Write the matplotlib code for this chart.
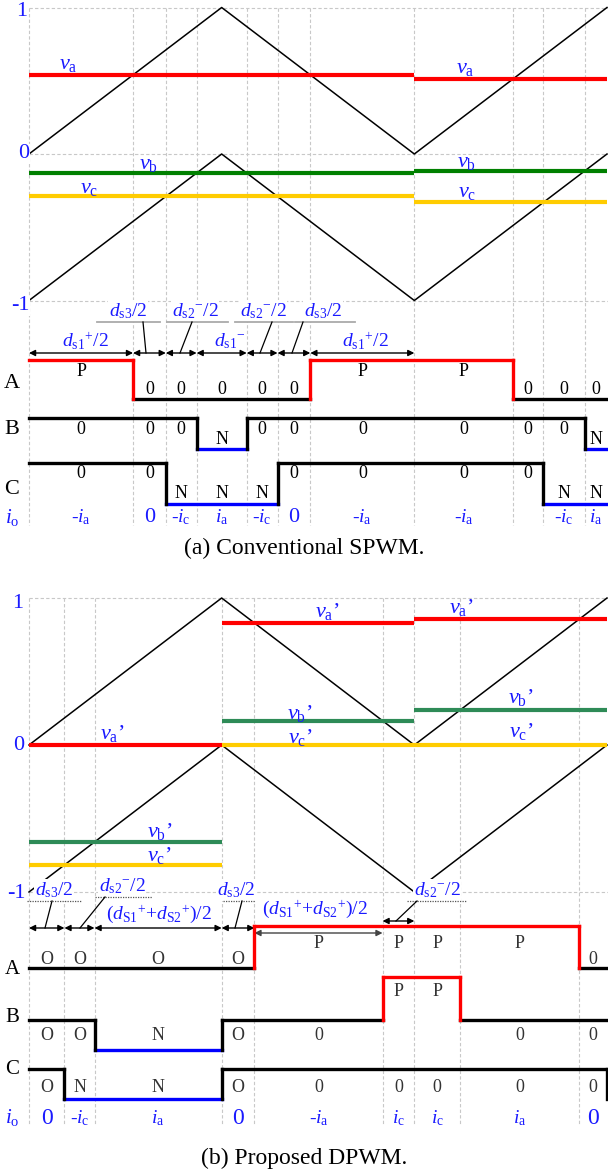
import numpy as np
import matplotlib
matplotlib.use('Agg')
import matplotlib.pyplot as plt

plt.rcParams['font.family'] = ['Liberation Serif', 'DejaVu Serif']
plt.rcParams['mathtext.fontset'] = 'custom'
plt.rcParams['mathtext.rm'] = 'Liberation Serif'
plt.rcParams['mathtext.it'] = 'Liberation Serif:italic'
plt.rcParams['mathtext.bf'] = 'Liberation Serif:bold'

# ------------------------------------------------------------------ data
carrier_t = [0, 1, 2, 3]
carrier_upper = [0, 1, 0, 1]
carrier_lower = [-1, 0, -1, 0]

# (a) conventional SPWM references (piecewise constant, change instants)
a_change = [0, 2, 3]
a_va = [0.54, 0.51]
a_vb = [-0.13, -0.116]
a_vc = [-0.29, -0.33]
a_io = ['-a', '0', '-c', 'a', '-c', '0', '-a', '-a', '', '-c', 'a']

# (b) proposed DPWM references
b_change = [0, 1, 2, 3]
b_va = [0.0, 0.83, 0.857]
b_vb = [-0.66, 0.165, 0.238]
b_vc = [-0.816, 0.0, 0.0]
b_io = ['0', '-c', 'a', '0', '-a', 'c', 'c', 'a', '0']
b_zero_glyph = ['O', 'O', 'O', 'O', '0', '0', '0', '0', '0']

tick_values = [1, 0, -1]
tick_labels = ['1', '0', '-1']
phase_names = ['A', 'B', 'C']

# ------------------------------------------------------------------ style
W, H = 608, 1176
X0 = 29.0
PX_T = 578.0 / 3.0
BLUE = '#1a1aff'
RED = '#ff0000'
YEL = '#ffcc00'
GRID = '#c8c8c8'
state_color = {'P': RED, '0': 'black', 'N': '#0000ff'}

fig = plt.figure(figsize=(W / 100, H / 100), dpi=100)


def make_panel(top_px, bot_px, zero_px, scale):
    ax = fig.add_axes([0, 1 - bot_px / H, 1, (bot_px - top_px) / H])
    ax.set_xlim(-X0 / PX_T, (W - X0) / PX_T)
    ax.set_ylim((zero_px - bot_px) / scale, (zero_px - top_px) / scale)
    ax.axis('off')
    X = lambda px: (px - X0) / PX_T
    Y = lambda py: (zero_px - py) / scale
    return ax, X, Y


def ref_at(t, change, refs):
    for i in range(len(refs)):
        if change[i] <= t < change[i + 1]:
            return refs[i]
    return refs[-1]


def crossings(change, refs):
    ts = []
    for i, v in enumerate(refs):
        ta, tb = change[i], change[i + 1]
        for car in (carrier_upper, carrier_lower):
            for k in range(len(carrier_t) - 1):
                t0, t1 = carrier_t[k], carrier_t[k + 1]
                c0, c1 = car[k], car[k + 1]
                if min(c0, c1) < v < max(c0, c1):
                    t = t0 + (v - c0) / (c1 - c0) * (t1 - t0)
                    if ta < t < tb:
                        ts.append(t)
    return ts


def state_at(t, change, refs):
    v = ref_at(t, change, refs)
    cu = np.interp(t, carrier_t, carrier_upper)
    cl = np.interp(t, carrier_t, carrier_lower)
    if v > cu:
        return 'P'
    if v < cl:
        return 'N'
    return '0'


def io_text(code):
    if code == '0':
        return '0'
    if code.startswith('-'):
        return r'-$i_{\mathrm{%s}}$' % code[1]
    return r'$i_{\mathrm{%s}}$' % code


def dim(ax, t0, t1, y, color='black'):
    ax.annotate('', xy=(t1, y), xytext=(t0, y),
                arrowprops=dict(arrowstyle='<|-|>', color=color, lw=1.0,
                                mutation_scale=9, shrinkA=0, shrinkB=0))


def draw_panel(ax, X, Y, change, refs, ref_cols, ref_lbls, ref_lbl_pos,
               levels, lab_y, state_glyphs, io, io_y, grid_bottom_px,
               lab_color, zero_font):
    for v in tick_values:
        ax.plot([0, X(W)], [v, v], color=GRID, lw=0.8, ls=(0, (3, 2)), zorder=0)
    cross = []
    for ref in refs:
        cross += crossings(change, ref)
    bounds = sorted(set([0.0, 3.0] + [float(c) for c in change] + cross))
    intervals = list(zip(bounds[:-1], bounds[1:]))
    for t in bounds[:-1]:
        ax.plot([t, t], [1, Y(grid_bottom_px)], color=GRID, lw=0.8,
                ls=(0, (3, 2)), zorder=0)
    ax.plot(carrier_t, carrier_upper, color='black', lw=1.1, zorder=2)
    ax.plot(carrier_t, carrier_lower, color='black', lw=1.1, zorder=2)
    for ref, col in zip(refs, ref_cols):
        for i, v in enumerate(ref):
            ax.plot([change[i], change[i + 1]], [v, v], color=col, lw=3.0,
                    solid_capstyle='butt', zorder=3)
    for txt, (px, py) in zip(ref_lbls, ref_lbl_pos):
        ax.text(X(px), Y(py), txt, color=BLUE, fontsize=16, ha='center',
                va='center', zorder=5)
    for ph, ref in zip(phase_names, refs):
        states = [state_at(0.5 * (a + b), change, ref) for a, b in intervals]
        segs = []
        for (t0, t1), s in zip(intervals, states):
            if segs and segs[-1][2] == s:
                segs[-1][1] = t1
            else:
                segs.append([t0, t1, s])
        lev = levels[ph]
        for t0, t1, s in segs:
            ax.plot([t0, t1], [Y(lev[s])] * 2, color=state_color[s], lw=2.4,
                    solid_capstyle='projecting', zorder=4)
        for pr, nx in zip(segs[:-1], segs[1:]):
            col = RED if 'P' in (pr[2], nx[2]) else 'black'
            ax.plot([nx[0]] * 2, [Y(lev[pr[2]]), Y(lev[nx[2]])], color=col,
                    lw=2.4, solid_capstyle='projecting', zorder=4)
        for k, ((t0, t1), s) in enumerate(zip(intervals, states)):
            g = s
            if s == '0' and state_glyphs is not None:
                g = state_glyphs[k]
            ax.text(0.5 * (t0 + t1), Y(lab_y[ph][s]), g, color=lab_color,
                    fontsize=13, ha='center', va='center', zorder=5)
    for k, ((t0, t1), code) in enumerate(zip(intervals, io)):
        if code:
            ax.text(0.5 * (t0 + t1), Y(io_y), io_text(code), color=BLUE,
                    fontsize=zero_font if code == '0' else 14,
                    ha='center', va='center', zorder=5)
    return intervals


WHITE = dict(facecolor='white', edgecolor='none', pad=0.5)

# ================================================================ panel (a)
axa, Xa, Ya = make_panel(0, 588, 154, 146.5)
ia = draw_panel(
    axa, Xa, Ya, a_change, [a_va, a_vb, a_vc], [RED, '#008000', YEL],
    [r'$v_{\mathrm{a}}$', r'$v_{\mathrm{a}}$', r'$v_{\mathrm{b}}$',
     r'$v_{\mathrm{b}}$', r'$v_{\mathrm{c}}$', r'$v_{\mathrm{c}}$'],
    [(68, 65), (465, 68), (149, 165), (467, 162), (89, 188), (467, 193)],
    {'A': {'P': 360, '0': 399}, 'B': {'0': 418, 'N': 449},
     'C': {'0': 463, 'N': 504}},
    {'A': {'P': 372, '0': 390}, 'B': {'0': 429, 'N': 439},
     'C': {'0': 473, 'N': 493}},
    None, a_io, 517, 525, 'black', 16)
for v, s, (px, py) in zip(tick_values, tick_labels, [(22, 12), (24, 154), (20, 306)]):
    axa.text(Xa(px), Ya(py), s, color=BLUE, fontsize=16, ha='center',
             va='center', bbox=WHITE, zorder=6)
for ph, py in zip(phase_names + ['io'], [384, 430, 489, 517]):
    txt = r'$i_{\mathrm{o}}$' if ph == 'io' else ph
    axa.text(Xa(12), Ya(py), txt, color=BLUE if ph == 'io' else 'black',
             fontsize=15 if ph == 'io' else 16, ha='center', va='center')

ya_arr = Ya(353)
for t0, t1 in ia[:7]:
    dim(axa, t0, t1, ya_arr)
axa.text(Xa(85), Ya(341), r'$d_{\mathrm{s1}}{}^{+}/2$', color=BLUE, fontsize=14,
         ha='center', va='center')
axa.text(Xa(230), Ya(341), r'$d_{\mathrm{s1}}{}^{-}$', color=BLUE, fontsize=14,
         ha='center', va='center')
axa.text(Xa(365), Ya(341), r'$d_{\mathrm{s1}}{}^{+}/2$', color=BLUE, fontsize=14,
         ha='center', va='center')
lead_a = [  # text, label x, underline x0, x1, leader top x, leader bottom x
    (r'$d_{\mathrm{s3}}/2$', 128, 97, 160, 143, 146),
    (r'$d_{\mathrm{s2}}{}^{-}/2$', 195, 167, 228, 192, 180),
    (r'$d_{\mathrm{s2}}{}^{-}/2$', 263, 235, 293, 272, 260),
    (r'$d_{\mathrm{s3}}/2$', 323, 295, 355, 303, 292),
]
for txt, lx, u0, u1, p0, p1 in lead_a:
    axa.text(Xa(lx), Ya(311), txt, color=BLUE, fontsize=14, ha='center',
             va='center', bbox=WHITE, zorder=6)
    axa.plot([Xa(u0), Xa(u1)], [Ya(322)] * 2, color='#aaaaaa', lw=1.3, zorder=7)
    axa.plot([Xa(p0), Xa(p1)], [Ya(322), ya_arr], color='black', lw=0.9, zorder=7)
axa.text(Xa(304), Ya(548), '(a) Conventional SPWM.', color='black', fontsize=17,
         ha='center', va='center')

# ================================================================ panel (b)
axb, Xb, Yb = make_panel(588, 1176, 745, 147.0)
ib = draw_panel(
    axb, Xb, Yb, b_change, [b_va, b_vb, b_vc], [RED, '#2e8b57', YEL],
    [r'$v_{\mathrm{a}}$’'] * 3 + [r'$v_{\mathrm{b}}$’'] * 3
    + [r'$v_{\mathrm{c}}$’'] * 3,
    [(112, 734), (327, 612), (461, 608), (160, 832), (300, 713), (521, 698),
     (159, 856), (300, 737), (521, 732)],
    {'A': {'P': 926, '0': 968}, 'B': {'P': 977, '0': 1020, 'N': 1050},
     'C': {'0': 1069, 'N': 1099}},
    {'A': {'P': 943, '0': 959}, 'B': {'P': 992, '0': 1035, 'N': 1035},
     'C': {'0': 1088, 'N': 1088}},
    b_zero_glyph, b_io, 1118, 1125, '#333333', 17)
axb.plot([3, 3], [Yb(1069), Yb(1099)], color='black', lw=2.4,
         solid_capstyle='projecting', zorder=4)
for v, s, (px, py) in zip(tick_values, tick_labels, [(18, 604), (19, 746), (16, 894)]):
    axb.text(Xb(px), Yb(py), s, color=BLUE, fontsize=16, ha='center',
             va='center', bbox=WHITE, zorder=6)
for ph, py in zip(phase_names + ['io'], [969, 1017, 1070, 1118]):
    txt = r'$i_{\mathrm{o}}$' if ph == 'io' else ph
    axb.text(Xb(12), Yb(py), txt, color=BLUE if ph == 'io' else 'black',
             fontsize=15, ha='center', va='center')

yb_arr = Yb(928)
for t0, t1 in ib[:4]:
    dim(axb, t0, t1, yb_arr)
dim(axb, ib[4][0], ib[4][1], Yb(933), color='#444444')
dim(axb, ib[5][0], ib[5][1], Yb(921))
sum_lbl = r'$(d_{\mathrm{S1}}{}^{+}{+}d_{\mathrm{S2}}{}^{+})/2$'
axb.text(Xb(159), Yb(914), sum_lbl, color=BLUE, fontsize=14, ha='center',
         va='center')
axb.text(Xb(315), Yb(909), sum_lbl, color=BLUE, fontsize=14, ha='center',
         va='center', bbox=WHITE, zorder=6)
lead_b = [  # text, label x, label y, underline x0, x1, y, leader top x, bottom x, bottom y
    (r'$d_{\mathrm{s3}}/2$', 54, 890, 27, 82, 901, 52, 45, 928),
    (r'$d_{\mathrm{s2}}{}^{-}/2$', 122, 886, 95, 152, 897, 105, 80, 928),
    (r'$d_{\mathrm{s3}}/2$', 236, 890, 223, 255, 901, 242, 235, 928),
    (r'$d_{\mathrm{s2}}{}^{-}/2$', 437, 890, 407, 466, 901, 417, 396, 921),
]
for txt, lx, ly, u0, u1, uy, p0, p1, py1 in lead_b:
    axb.text(Xb(lx), Yb(ly), txt, color=BLUE, fontsize=14, ha='center',
             va='center', bbox=WHITE, zorder=6)
    axb.plot([Xb(u0), Xb(u1)], [Yb(uy)] * 2, color='#555555', lw=0.9,
             ls=(0, (1, 1)), zorder=7)
    axb.plot([Xb(p0), Xb(p1)], [Yb(uy), Yb(py1)], color='black', lw=0.9, zorder=7)
axb.text(Xb(304), Yb(1158), '(b) Proposed DPWM.', color='black', fontsize=17,
         ha='center', va='center')

fig.savefig('out.png', dpi=100)
